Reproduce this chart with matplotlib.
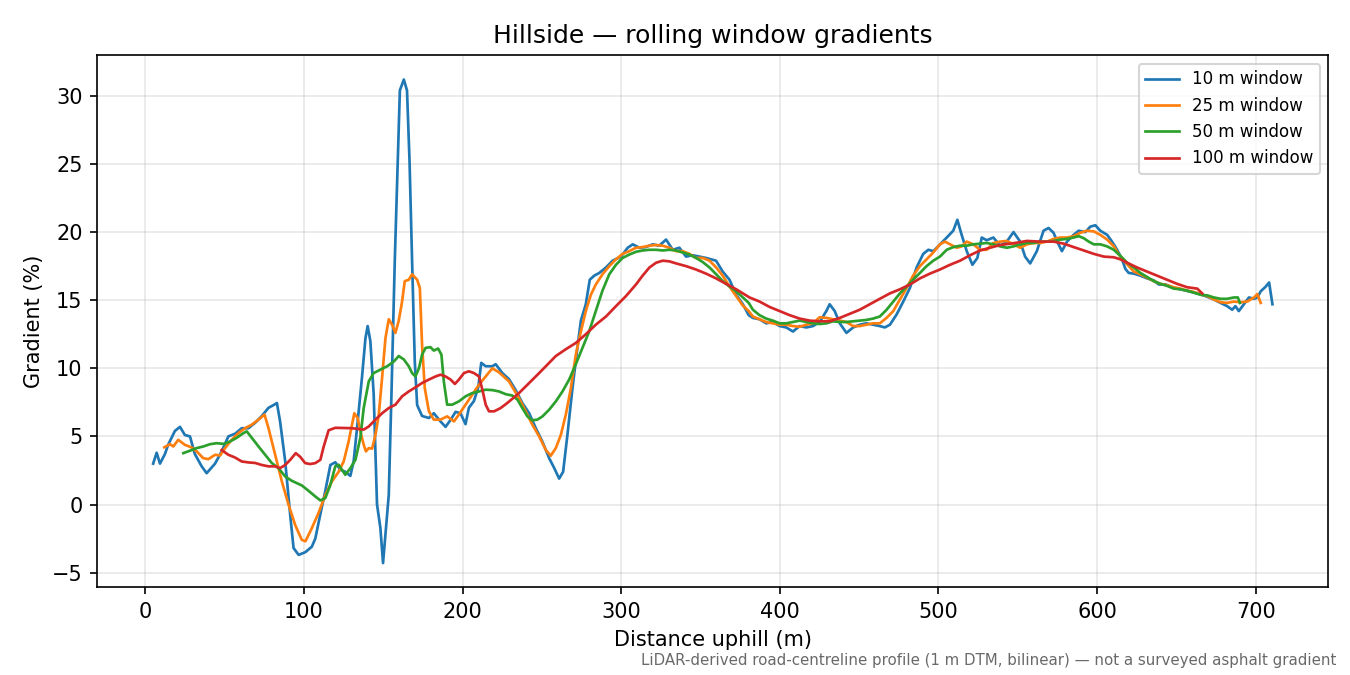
import numpy as np
import matplotlib
matplotlib.use("Agg")
import matplotlib.pyplot as plt

# Gradient profiles (distance in m, gradient in %)
x_10 = [5, 7.2, 9.3, 12.4, 14.5, 18.7, 21.9, 25, 28.2, 31.3, 35.6, 38.7, 44, 48.2, 52.4,
        56.7, 60.8, 65, 69.3, 73.5, 77.7, 80.9, 83, 85, 88.2, 91.4, 93.5, 96.7, 100.9, 105,
        107.2, 109.5, 113.5, 116.7, 119.8, 123, 126.1, 129.3, 131.4, 133.5, 136.6, 138.8,
        140.2, 141.9, 144, 146.1, 148.2, 149.9, 151.4, 153.5, 155.2, 157.3, 159.2, 160.5,
        163, 165, 166.6, 168.2, 169.9, 171.4, 174.5, 178.8, 181.9, 186.1, 189.3, 192.4,
        195.6, 198.7, 201.9, 204, 207.2, 209.9, 211.8, 214.6, 218.8, 220.9, 225.1, 229.3,
        233.5, 237.7, 242, 246.2, 250.4, 254.6, 257.7, 260.9, 263.4, 266.1, 269.3, 272.4,
        274.6, 277.7, 280.2, 283, 286.2, 290.4, 294.6, 299.9, 304.1, 307.3, 311.5, 315.5,
        319.9, 324, 328.3, 332.5, 336.7, 340.9, 345.1, 349.3, 353.5, 359.8, 364, 368.3,
        372.5, 376.7, 380.4, 383, 387.2, 391.4, 395.6, 399.9, 404, 408.3, 412.5, 416.7,
        420.9, 425.1, 429.3, 431.4, 434.6, 437.8, 442, 446.2, 450.4, 454.6, 458.8, 463,
        466.2, 469.4, 473.6, 477.8, 482, 486.2, 490.4, 493.6, 496.8, 501, 505.2, 509.3,
        511.9, 514.6, 517.8, 521.4, 524.5, 527.3, 530.4, 534.6, 538.9, 543, 547.3, 551.5,
        554.6, 557.8, 562, 566.2, 569.4, 572.5, 575.7, 577.8, 581, 585.2, 588.4, 592.6,
        595.7, 598.9, 602, 606.3, 609.4, 612.6, 615.7, 617.8, 619.9, 623.1, 627.3, 631.5,
        635.7, 638.9, 643.1, 647.3, 652.5, 657.8, 663.1, 668.3, 673.6, 677.8, 682, 685.1,
        687.2, 689.3, 692.5, 695.7, 698.9, 701, 703.1, 706.3, 708.4, 710.5]
g_10 = [3.0, 3.8, 3.0, 3.7, 4.4, 5.4, 5.7, 5.1, 5.0, 3.7, 2.8, 2.3, 3.0, 3.9, 5.0,
        5.2, 5.6, 5.6, 6.0, 6.5, 7.1, 7.3, 7.45, 6.1, 3.2, -0.8, -3.2, -3.7, -3.5, -3.1,
        -2.5, -1.2, 1.0, 2.9, 3.1, 2.55, 2.4, 2.1, 3.2, 5.6, 9.3, 12.2,
        13.1, 12.0, 8.1, 0.0, -1.7, -4.3, -2.2, 0.7, 8.1, 17.9, 25.2, 30.4,
        31.2, 30.4, 25.2, 17.9, 10.5, 7.3, 6.5, 6.35, 6.7, 6.1, 5.7, 6.2,
        6.8, 6.7, 5.9, 7.1, 7.6, 8.6, 10.4, 10.15, 10.15, 10.3, 9.65, 9.2,
        8.4, 7.45, 6.7, 5.6, 4.6, 3.4, 2.7, 1.9, 2.4, 5.1, 8.55, 11.5,
        13.5, 14.7, 16.5, 16.8, 17.0, 17.4, 17.9, 18.2, 18.85, 19.1, 18.85, 18.9,
        19.1, 19.0, 19.45, 18.7, 18.85, 18.2, 18.3, 18.2, 18.1, 17.9, 17.1, 16.5,
        15.4, 14.7, 13.9, 13.7, 13.6, 13.3, 13.4, 13.1, 13.0, 12.7, 13.1, 13.0,
        13.1, 13.4, 14.2, 14.7, 14.2, 13.3, 12.6, 13.0, 13.2, 13.3, 13.2, 13.1,
        13.0, 13.2, 13.95, 14.9, 15.9, 17.4, 18.4, 18.7, 18.6, 19.1, 19.6, 20.1,
        20.9, 19.8, 18.6, 17.6, 18.1, 19.6, 19.4, 19.6, 19.0, 19.3, 20.0, 19.3,
        18.2, 17.7, 18.6, 20.1, 20.3, 19.95, 19.1, 18.6, 19.3, 19.8, 20.1, 20.0,
        20.4, 20.5, 20.1, 19.8, 19.3, 18.7, 18.0, 17.3, 17.0, 16.95, 16.8, 16.6,
        16.45, 16.15, 16.15, 15.95, 15.8, 15.65, 15.5, 15.3, 15.05, 14.8, 14.56, 14.3,
        14.56, 14.2, 14.7, 15.2, 15.1, 15.2, 15.65, 16.0, 16.3, 14.7]

x_25 = [12, 15.6, 17.7, 20.8, 25, 29.2, 32.4, 36.6, 39.8, 44, 47.2, 50.3, 54.5, 58.7,
        62.9, 67.1, 71.4, 75.2, 77.7, 81.9, 86.1, 90.3, 94.5, 98.7, 101, 105, 109.3,
        113.5, 117.7, 121.9, 125.1, 128.2, 130.3, 131.8, 133.9, 135.6, 137.7, 139.1,
        140.9, 143, 145.1, 147.2, 149.3, 151.4, 153.5, 155.6, 157.7, 159.8, 161.9, 163.6,
        166.1, 168.2, 171.4, 173.1, 174.5, 176.2, 178.8, 181.9, 186.1, 190.3, 194.6,
        197.7, 201.9, 206.1, 210.4, 214.6, 218.8, 223, 229.3, 235.6, 239.8, 244, 248.3,
        252.5, 255.6, 258.8, 262, 265.1, 268.3, 271.4, 274.6, 277.7, 280.9, 284, 288.2,
        292.5, 296.7, 300.9, 305.1, 309.3, 313.5, 317.8, 322, 326.2, 330.4, 334.6, 338.8,
        343, 347.2, 351.4, 355.7, 359.9, 364, 368.3, 372.5, 376.7, 380.4, 383, 387.2,
        391.4, 395.6, 399.9, 404, 408.3, 412.5, 416.7, 420.9, 425.1, 429.3, 433.5, 437.8,
        442, 446.2, 450.4, 454.6, 458.8, 463, 467.3, 471.5, 475.7, 479.9, 484, 488.3,
        492.5, 496.7, 500.9, 504.1, 507.3, 511.5, 514.6, 517.8, 522, 526.2, 530.4, 534.6,
        538.9, 543.1, 547.3, 551.5, 555.7, 559.9, 564.1, 568.4, 572.6, 576.8, 581, 585.2,
        589.4, 593.6, 597.9, 602, 606.3, 610.5, 613.7, 616.8, 620, 623.1, 627.3, 631.5,
        635.7, 639.9, 644.1, 648.3, 652.5, 656.8, 661, 665.2, 669.4, 673.6, 677.8, 682,
        686.2, 690.4, 694.6, 698.9, 701, 703.1]
g_25 = [4.2, 4.43, 4.26, 4.75, 4.38, 4.19, 3.9, 3.4, 3.33, 3.65, 3.6, 4.14, 4.75, 5.24,
        5.6, 5.86, 6.23, 6.6, 5.6, 3.65, 1.7, 0.0, -1.5, -2.6, -2.7, -1.74, -0.6,
        0.7, 1.7, 2.4, 3.16, 4.63, 5.86, 6.7, 6.35, 5.37, 4.4, 3.9,
        4.14, 4.1, 5.1, 6.6, 9.3, 12.2, 13.6, 13.2, 12.6, 13.5, 14.9, 16.4,
        16.5, 16.9, 16.5, 15.9, 11.7, 8.55, 6.84, 6.23, 6.23, 6.47, 6.1,
        6.6, 7.33, 8.07, 8.8, 9.4, 10.0, 9.7, 9.04, 7.8, 6.84, 5.86, 5.0,
        4.0, 3.58, 4.14, 5.12, 6.6, 8.55, 11.0, 12.7, 14.2, 15.4, 16.15, 16.9,
        17.5, 18.0, 18.4, 18.6, 18.85, 18.9, 19.0, 19.05, 19.0, 18.85, 18.6, 18.6,
        18.4, 18.1, 18.1, 17.9, 17.4, 16.8, 16.0, 15.3, 14.6, 14.2, 13.8, 13.6,
        13.4, 13.3, 13.2, 13.2, 13.1, 13.05, 13.2, 13.3, 13.75, 13.7, 13.6, 13.5,
        13.4, 13.1, 13.1, 13.2, 13.3, 13.3, 13.7, 14.2, 15.05, 15.9, 16.8, 17.5,
        18.0, 18.5, 19.1, 19.3, 19.1, 18.85, 18.95, 19.3, 19.1, 18.7, 18.7, 19.2,
        19.3, 19.35, 19.1, 18.85, 19.1, 19.2, 19.2, 19.3, 19.5, 19.6, 19.6, 19.7,
        19.95, 20.1, 20.05, 19.8, 19.45, 18.95, 18.35, 17.9, 17.5, 17.1, 16.9, 16.65,
        16.4, 16.2, 16.1, 15.95, 15.85, 15.7, 15.6, 15.45, 15.3, 15.05, 14.85, 14.8,
        14.9, 14.85, 14.9, 15.2, 15.45, 14.8]

x_50 = [24, 28.2, 32.4, 36.6, 40.9, 45, 49.3, 53.5, 57.7, 61.9, 64, 67.1, 71.4, 75.6,
        79.8, 84, 88.2, 92.4, 98.7, 103, 107.2, 110.4, 113.5, 116.7, 119.8, 121.9, 124,
        126.1, 129.3, 132.5, 135.6, 137.7, 140.9, 144, 148.3, 152.5, 156.7, 159.8, 163,
        166.1, 168.2, 170.3, 172.5, 174.5, 176.7, 179.8, 181.9, 184.6, 186.7, 188.2,
        190.3, 193.5, 197.7, 201.9, 206.1, 210.4, 214.6, 218.8, 223, 227.2, 231.4, 234.6,
        237.7, 240.9, 244, 247.2, 250.4, 254.6, 258.8, 263, 267.2, 271.4, 275.6, 279.8,
        284, 288.2, 292.5, 296.7, 300.9, 305.1, 309.3, 313.5, 317.8, 322, 326.2, 330.4,
        334.6, 338.8, 343, 347.2, 351.4, 355.7, 359.9, 364, 368.3, 372.5, 376.7, 380.4,
        383, 387.2, 391.4, 395.6, 399.9, 404, 408.3, 412.5, 416.7, 420.9, 425.1, 429.3,
        433.5, 437.8, 442, 446.2, 450.4, 454.6, 458.8, 463, 467.3, 471.5, 475.7, 479.9,
        484, 488.3, 492.5, 496.7, 500.9, 505.2, 509.4, 513.6, 517.8, 522, 526.2, 530.4,
        534.6, 538.9, 543.1, 547.3, 551.5, 555.7, 559.9, 564.1, 568.4, 572.6, 576.8, 581,
        585.2, 588.4, 591.6, 594.7, 597.9, 602, 606.3, 610.5, 614.7, 618.9, 623.1, 627.3,
        631.5, 635.7, 639.9, 644.1, 648.3, 652.5, 656.8, 661, 665.2, 669.4, 673.6, 677.8,
        682, 686.2, 688.7, 690]
g_50 = [3.77, 3.95, 4.14, 4.26, 4.43, 4.5, 4.45, 4.63, 4.9, 5.24, 5.37, 4.9, 4.26, 3.65,
        3.04, 2.67, 2.06, 1.74, 1.4, 1.0, 0.59, 0.3, 0.47, 1.45, 2.8, 2.92, 2.55,
        2.18, 2.67, 3.28, 4.9, 7.08, 9.04, 9.65, 9.9, 10.15, 10.5, 10.9, 10.65,
        10.15, 9.65, 9.4, 10.0, 11.0, 11.5, 11.55, 11.3, 11.45, 11.0, 9.04,
        7.33, 7.33, 7.57, 7.94, 8.18, 8.3, 8.43, 8.4, 8.3, 8.1, 8.0, 7.7,
        7.08, 6.47, 6.18, 6.23, 6.47, 6.96, 7.57, 8.3, 9.17, 10.3, 11.5, 12.7,
        14.2, 15.7, 16.9, 17.6, 18.1, 18.35, 18.55, 18.65, 18.7, 18.7, 18.65, 18.7,
        18.65, 18.5, 18.35, 18.1, 17.8, 17.4, 16.9, 16.4, 16.0, 15.66, 15.2, 14.8,
        14.3, 13.9, 13.65, 13.5, 13.3, 13.3, 13.4, 13.5, 13.4, 13.3, 13.25, 13.3,
        13.45, 13.4, 13.4, 13.45, 13.5, 13.55, 13.65, 13.8, 14.3, 14.9, 15.5, 16.0,
        16.5, 17.0, 17.5, 17.9, 18.2, 18.7, 18.9, 19.0, 19.0, 19.1, 19.15, 19.2,
        19.1, 18.95, 18.85, 18.95, 19.1, 19.2, 19.2, 19.3, 19.3, 19.35, 19.45, 19.5,
        19.6, 19.7, 19.55, 19.3, 19.1, 19.1, 18.95, 18.7, 18.25, 17.75, 17.4, 17.0,
        16.7, 16.4, 16.2, 16.05, 15.85, 15.8, 15.7, 15.55, 15.4, 15.35, 15.2, 15.1,
        15.1, 15.2, 15.2, 14.8]

x_100 = [48.2, 52.4, 56.6, 60.8, 65, 69.3, 73.5, 77.7, 81.9, 85, 88.2, 91.4, 94.9, 97.7,
         100.8, 104, 107.2, 110.4, 112.5, 115.6, 119.8, 124, 130.3, 137.7, 140.9, 145.1,
         149.3, 153.5, 157.7, 161.9, 166.1, 170.3, 174.5, 178.8, 183, 186.1, 189.3, 192.5,
         195.2, 197.7, 200.9, 204, 207.2, 210.4, 212.5, 214.6, 216.7, 219.9, 224, 228.2,
         232.5, 235.6, 242, 248.3, 254.6, 258.8, 265.1, 271.4, 277.7, 284, 290.4, 296.7,
         303, 309.3, 313.5, 317.8, 322, 326.2, 330.4, 334.6, 340.9, 347.2, 353.5, 359.8,
         366.1, 372.5, 380.9, 387.2, 393.6, 399.9, 406.2, 412.5, 418.8, 425.1, 431.4,
         437.8, 444.1, 450.4, 456.7, 463, 469.4, 475.7, 482, 488.3, 494.6, 500.9, 507.3,
         513.6, 519.9, 526.2, 532.5, 538.9, 545.2, 551, 555.7, 564.1, 572.6, 578.9, 585.2,
         591.6, 597.9, 604.2, 610.5, 614.7, 618.9, 625.2, 631.5, 637.8, 644.1, 650.4,
         656.8, 663.1, 666.2]
g_100 = [4.0, 3.65, 3.45, 3.16, 3.09, 3.05, 2.9, 2.8, 2.8, 2.67, 2.9, 3.28, 3.77, 3.5,
         3.04, 2.97, 3.04, 3.28, 4.26, 5.45, 5.63, 5.62, 5.6, 5.5, 5.73, 6.23,
         6.7, 7.08, 7.33, 7.94, 8.3, 8.6, 8.92, 9.17, 9.4, 9.53, 9.4, 9.17,
         8.85, 9.17, 9.65, 9.78, 9.65, 9.4, 8.43, 7.33, 6.84, 6.84, 7.08, 7.45,
         7.87, 8.18, 8.92, 9.65, 10.4, 10.9, 11.4, 11.86, 12.5, 13.2, 13.8, 14.56,
         15.3, 16.15, 16.8, 17.4, 17.75, 17.9, 17.85, 17.7, 17.5, 17.25, 16.95, 16.6,
         16.2, 15.8, 15.2, 14.9, 14.5, 14.2, 13.9, 13.65, 13.5, 13.45, 13.45,
         13.7, 14.0, 14.3, 14.7, 15.1, 15.5, 15.8, 16.15, 16.6, 16.95, 17.25, 17.6,
         17.9, 18.3, 18.65, 18.85, 19.05, 19.15, 19.25, 19.35, 19.3, 19.3, 19.15, 18.9,
         18.65, 18.4, 18.2, 18.15, 18.0, 17.75, 17.4, 17.1, 16.8, 16.5, 16.2,
         15.95, 15.85, 15.5]

series = [(x_10, g_10, "10 m window"),
          (x_25, g_25, "25 m window"),
          (x_50, g_50, "50 m window"),
          (x_100, g_100, "100 m window")]

fig, ax = plt.subplots(figsize=(9, 4.5), dpi=150)
fig.subplots_adjust(left=0.072, right=0.984, top=0.918, bottom=0.13)

for xs, gs, name in series:
    ax.plot(xs, gs, lw=1.3, label=name)

ax.set_title("Hillside — rolling window gradients")
ax.set_xlabel("Distance uphill (m)")
ax.set_ylabel("Gradient (%)")
ax.grid(True, alpha=0.3)
ax.legend(loc="upper right", fontsize=8)

fig.text(0.99, 0.011, "LiDAR-derived road-centreline profile (1 m DTM, bilinear) — not a surveyed asphalt gradient",
         ha="right", va="bottom", fontsize=7.2, color="dimgray")

fig.savefig("out.png", dpi=150)
